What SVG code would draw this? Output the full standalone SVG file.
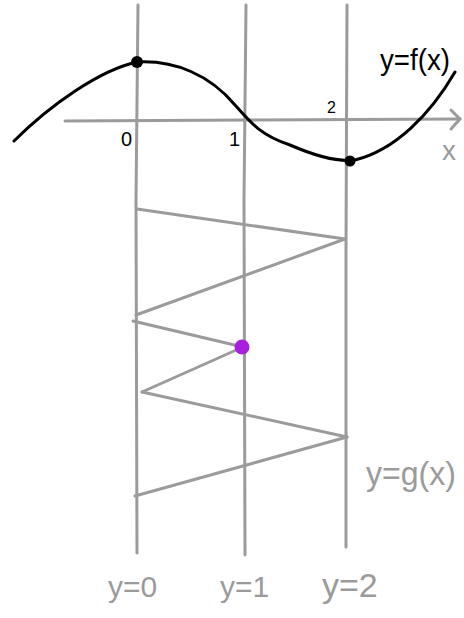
<svg xmlns="http://www.w3.org/2000/svg" width="464" height="618" viewBox="0 0 464 618">
<style>
.g{fill:none;stroke:#9b9b9b;stroke-width:3;stroke-linecap:round;stroke-linejoin:round}
.k{fill:none;stroke:#000;stroke-width:3;stroke-linecap:round;stroke-linejoin:round}
.tk{font-family:"Liberation Sans",Arial,sans-serif;fill:#000}
.tg{font-family:"Liberation Sans",Arial,sans-serif;fill:#9b9b9b}
</style>
<rect width="464" height="618" fill="#fff"/>
<g id="grid">
<path class="g" d="M138,5 L136,200 L137,553"/>
<path class="g" d="M246,5 L244,200 L245,555"/>
<path class="g" d="M347,5 L346,250 L346,547"/>
</g>
<g id="axis">
<path class="g" d="M65,121 L250,120 L460,119"/>
<path class="g" d="M451,110 L460,119 L451,129"/>
<text class="tg" x="442" y="160" font-size="28">x</text>
</g>
<g id="connectors">
<path class="g" d="M137,209 L345,239"/>
<path class="g" d="M345,239 L136,315"/>
<path class="g" d="M133,321 L243,347"/>
<path class="g" d="M243,347 L142,392"/>
<path class="g" d="M142,392 L347,437"/>
<path class="g" d="M347,437 L135,496"/>
</g>
<g id="curve">
<path class="k" d="M14,141 C50,105 100,70 137,62 C175,60 210,75 235,105 C250,122 260,135 290,145 C320,158 340,162 355,160 C395,150 430,115 455,72"/>
<circle cx="137" cy="62" r="6" fill="#000"/>
<circle cx="350" cy="161" r="5.5" fill="#000"/>
</g>
<g id="purple-point">
<circle cx="242" cy="347" r="7.5" fill="#a81fe0"/>
</g>
<g id="labels">
<text class="tk" x="121" y="146" font-size="20">0</text>
<text class="tk" x="229" y="146" font-size="20">1</text>
<text class="tk" x="327" y="113" font-size="16">2</text>
<text class="tk" x="380" y="70" font-size="30" textLength="70" lengthAdjust="spacingAndGlyphs">y=f(x)</text>
<text class="tg" x="366" y="485" font-size="34" textLength="90" lengthAdjust="spacingAndGlyphs">y=g(x)</text>
<text class="tg" x="108" y="597" font-size="30">y=0</text>
<text class="tg" x="220" y="597" font-size="30">y=1</text>
<text class="tg" x="322" y="597" font-size="34">y=2</text>
</g>
</svg>
